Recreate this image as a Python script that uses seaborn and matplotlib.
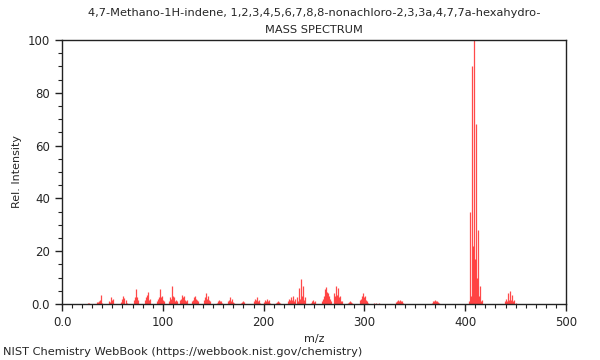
import matplotlib
matplotlib.use("Agg")
import matplotlib.pyplot as plt
import seaborn as sns
import pandas as pd
from matplotlib.ticker import MultipleLocator, FixedLocator, FixedFormatter

# peak list (m/z, relative intensity)
mz = [
    26, 27, 35, 36, 37, 38, 39, 40,
    47, 48, 49, 50, 51,
    59, 60, 61, 62, 63, 64,
    71, 72, 73, 74, 75,
    82, 83, 84, 85, 86, 87,
    94, 95, 96, 97, 98, 99, 100, 101,
    106, 107, 108, 109, 110, 111, 112, 113, 114,
    117, 118, 119, 120, 121, 122, 123, 124,
    129, 130, 131, 132, 133, 134, 135,
    141, 142, 143, 144, 145, 146, 147,
    154, 155, 156, 157, 158, 159,
    165, 166, 167, 168, 169, 170, 171,
    178, 179, 180, 181,
    190, 191, 192, 193, 194, 195, 196,
    200, 201, 202, 203, 204, 205, 206,
    212, 213, 214, 215, 216,
    224, 225, 226, 227, 228, 229, 230, 231,
    233, 234, 235, 236, 237, 238, 239, 240, 241,
    247, 248, 249, 250, 251,
    258, 259, 260, 261, 262, 263, 264, 265, 266, 267,
    270, 271, 272, 273, 274, 275, 276, 277, 278,
    284, 285, 286, 287, 288,
    296, 297, 298, 299, 300, 301, 302, 303, 304,
    310, 312, 314,
    331, 332, 333, 334, 335, 336, 337, 338,
    367, 368, 369, 370, 371, 372, 373, 374,
    404, 405, 406, 407, 408, 409, 410, 411, 412, 413, 414, 415, 416, 417,
    439, 440, 441, 442, 443, 444, 445, 446, 447, 448, 450,
]
intensity = [
    0.3, 0.5, 0.8, 0.6, 1.2, 1.5, 3.5, 0.5,
    1.0, 0.8, 2.5, 1.5, 2.0,
    0.8, 2.0, 3.0, 2.2, 1.5, 0.5,
    1.5, 2.8, 5.5, 2.5, 1.5,
    1.5, 2.5, 3.5, 4.5, 1.5, 2.0,
    1.0, 2.0, 2.5, 5.5, 2.8, 3.0, 1.5, 1.2,
    1.0, 2.5, 2.0, 7.0, 3.0, 2.5, 1.0, 1.5, 1.2,
    1.5, 2.0, 3.5, 2.5, 3.0, 1.5, 1.0, 1.5,
    1.0, 1.5, 2.5, 3.0, 2.0, 1.5, 1.0,
    1.5, 2.5, 4.0, 2.0, 3.0, 1.5, 1.0,
    0.5, 1.0, 1.5, 1.0, 1.2, 0.5,
    1.0, 1.5, 2.5, 1.0, 1.8, 0.8, 0.5,
    0.5, 0.8, 1.0, 0.8,
    1.0, 2.0, 1.5, 2.5, 1.2, 1.5, 0.5,
    0.8, 1.5, 1.0, 2.0, 1.0, 1.5, 0.5,
    0.5, 0.8, 1.0, 0.8, 0.5,
    1.0, 2.0, 1.5, 2.5, 1.5, 3.0, 1.0, 2.0,
    2.5, 1.0, 6.0, 2.0, 9.5, 3.0, 7.0, 1.5, 2.5,
    0.5, 1.0, 1.5, 0.8, 1.0,
    1.0, 2.0, 3.0, 5.5, 6.5, 4.5, 4.0, 3.0, 2.0, 1.0,
    4.0, 3.0, 7.0, 3.5, 6.0, 2.5, 3.0, 1.0, 1.0,
    0.5, 0.8, 1.0, 0.8, 0.5,
    1.5, 2.0, 3.0, 4.0, 2.5, 3.0, 1.5, 1.0, 0.5,
    0.5, 0.5, 0.3,
    0.8, 1.0, 1.5, 1.2, 1.5, 1.0, 1.0, 0.5,
    0.5, 1.0, 1.2, 1.5, 1.2, 1.3, 0.8, 0.5,
    1.0, 35, 3, 90, 22, 100, 17, 68, 10, 28, 3, 7, 1, 1.5,
    1.0, 2.0, 1.0, 4.0, 1.5, 5.0, 1.5, 3.5, 1.0, 1.5, 0.5,
]

x_ticks = [0, 100, 200, 300, 400, 500]
x_labels = ["0.0", "100", "200", "300", "400", "500"]
y_ticks = [0, 20, 40, 60, 80, 100]
y_labels = ["0.0", "20", "40", "60", "80", "100"]

title_line1 = "4,7-Methano-1H-indene, 1,2,3,4,5,6,7,8,8-nonachloro-2,3,3a,4,7,7a-hexahydro-"
title_line2 = "MASS SPECTRUM"

spec = pd.DataFrame({"mz": mz, "intensity": intensity})

sns.set_style("ticks")
plt.rcParams["font.family"] = ["DejaVu Sans"]

fig = plt.figure(figsize=(6, 3.6), dpi=100)
ax = fig.add_axes([62 / 600, 1 - 304 / 360, 504 / 600, 264 / 360])

ax.vlines(spec["mz"], 0, spec["intensity"], color="#ff2a2a", linewidth=0.9, alpha=0.85)

ax.set_xlim(0, 500)
ax.set_ylim(0, 100)
ax.xaxis.set_major_locator(FixedLocator(x_ticks))
ax.xaxis.set_major_formatter(FixedFormatter(x_labels))
ax.yaxis.set_major_locator(FixedLocator(y_ticks))
ax.yaxis.set_major_formatter(FixedFormatter(y_labels))
ax.xaxis.set_minor_locator(MultipleLocator(10))
ax.yaxis.set_minor_locator(MultipleLocator(5))
ax.tick_params(which="major", length=5, width=1, labelsize=8.5, color="#222222")
ax.tick_params(which="minor", length=3, width=0.8, color="#222222")
for s in ax.spines.values():
    s.set_visible(True)
    s.set_color("#222222")
    s.set_linewidth(1)

ax.set_xlabel("m/z", fontsize=8)
ax.set_ylabel("Rel. Intensity", fontsize=8)
ax.grid(False)

fig.text(314 / 600, 1 - 13 / 360, title_line1, ha="center", va="center", fontsize=8.2)
fig.text(314 / 600, 1 - 30 / 360, title_line2, ha="center", va="center", fontsize=8.2)
fig.text(3 / 600, 1 - 352 / 360, "NIST Chemistry WebBook (https://webbook.nist.gov/chemistry)",
         ha="left", va="center", fontsize=8.2)

fig.savefig("out.png", dpi=100)
